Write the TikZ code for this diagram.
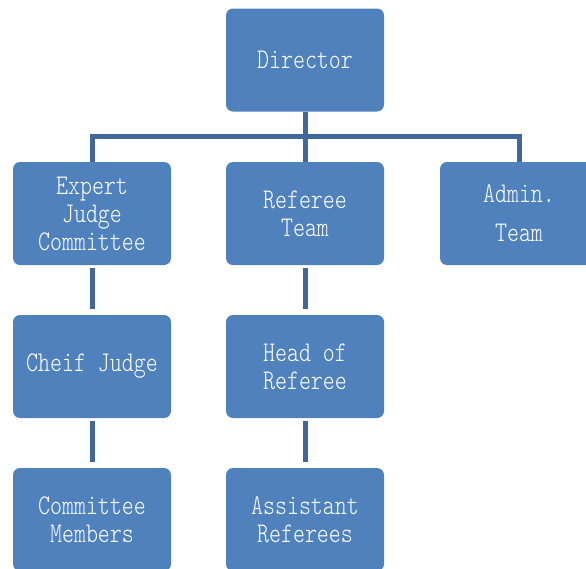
\documentclass[tikz,border=0pt]{standalone}
\usepackage{fontspec}
\newfontfamily\sqfont{lmmonolt10-regular.otf}[FakeStretch=0.8]
\definecolor{boxblue}{RGB}{79,129,189}
\definecolor{lineblue}{RGB}{64,104,154}
\begin{document}
\begin{tikzpicture}[x=1pt,y=-1pt,
  orgbox/.style={rectangle, rounded corners=7pt, fill=boxblue, draw=none,
    minimum width=158pt, minimum height=103pt, inner sep=0pt,
    text=white, align=center, font=\sqfont\fontsize{28.5}{28}\selectfont},
  link/.style={draw=lineblue, line width=5pt}]
\useasboundingbox (0,0) rectangle (586,568);
\clip (0,0) rectangle (586,568);
\node[orgbox] (dir) at (305,60) {Director};
\node[orgbox] (exp) at (92,213.5) {Expert\\Judge\\Committee};
\node[orgbox] (ref) at (305,213.5) {Referee\\Team};
\node[orgbox] (adm) at (519,213.5) {Admin.\\[11pt]Team};
\node[orgbox] (chf) at (92,366.5) {\raisebox{-3pt}{Cheif Judge}};
\node[orgbox] (hor) at (305,366.5) {Head of\\Referee};
\node[orgbox] (com) at (92,519.5) {Committee\\Members};
\node[orgbox] (ast) at (305,519.5) {Assistant\\Referees};
\coordinate (bar) at (305,136);
\draw[link] (dir.south) -- (bar);
\draw[link] (exp.north) -- (exp.north |- bar) -- (adm.north |- bar) -- (adm.north);
\draw[link] (bar) -- (ref.north);
\draw[link, shorten <=3pt, shorten >=6pt] (exp.south) -- (chf.north);
\draw[link, shorten <=3pt, shorten >=6pt] (ref.south) -- (hor.north);
\draw[link, shorten <=3pt, shorten >=6pt] (chf.south) -- (com.north);
\draw[link, shorten <=3pt, shorten >=6pt] (hor.south) -- (ast.north);
\end{tikzpicture}
\end{document}
